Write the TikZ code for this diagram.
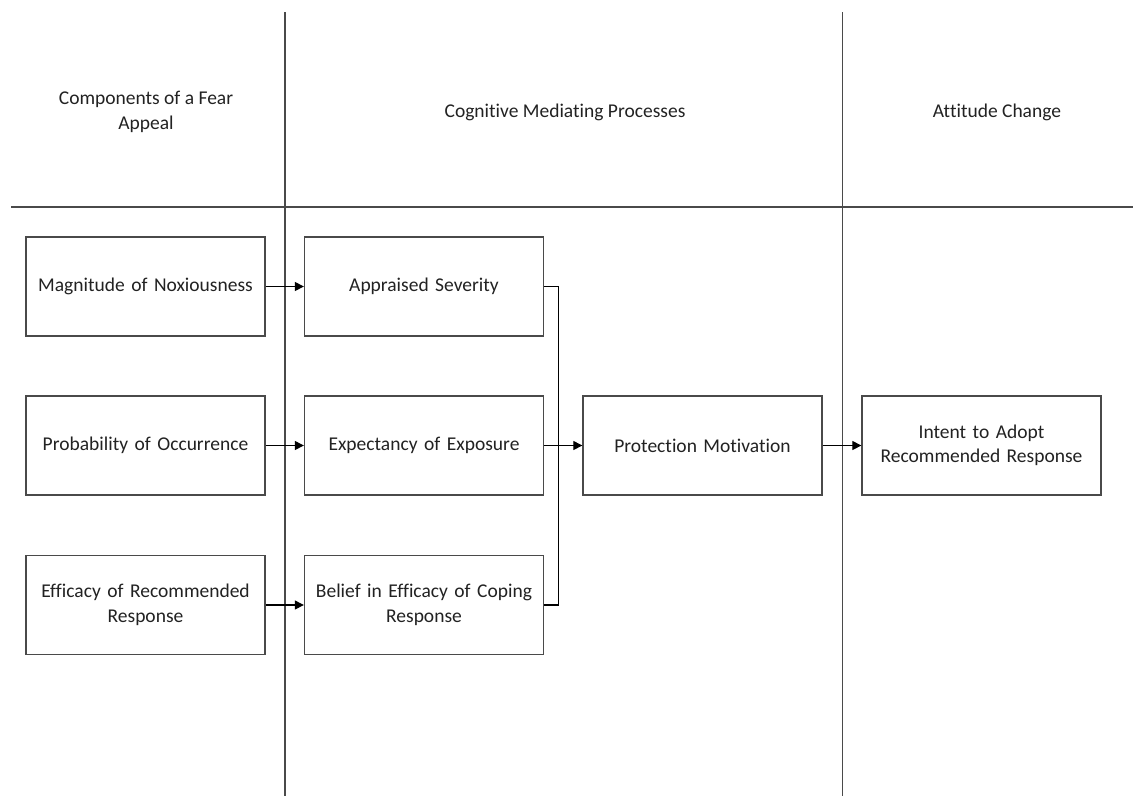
\documentclass[tikz,border=0pt]{standalone}
\usepackage{fontspec}
\setmainfont{Carlito}[Ligatures=NoCommon]
\usetikzlibrary{arrows.meta}
\definecolor{ink}{HTML}{222222}
\definecolor{frame}{HTML}{4A4A4A}
\tikzset{
  boxnode/.style={draw=frame, line width=1.3pt, minimum width=239pt, minimum height=99pt,
    inner sep=0pt, align=center, text=ink, font=\fontsize{19.5}{24.5}\selectfont, text width=225pt},
  headnode/.style={align=center, text=ink, font=\fontsize{19.5}{24.5}\selectfont, inner sep=0pt},
  gridline/.style={draw=frame, line width=1.2pt},
  conn/.style={draw=black, line width=1.1pt},
  arr/.style={conn, -{Triangle[length=9pt,width=9pt]}}
}
\begin{document}
\begin{tikzpicture}[x=1pt,y=-1pt]
\useasboundingbox (0,0) rectangle (1133,796);
% grid lines
\coordinate (hl) at (11,207);
\coordinate (hr) at (1133,207);
\coordinate (v1t) at (285,12);
\coordinate (v1b) at (285,796);
\coordinate (v2t) at (842.5,12);
\coordinate (v2b) at (842.5,796);
\draw[gridline] (hl) -- (hr);
\draw[gridline] (v1t) -- (v1b);
\draw[gridline] (v2t) -- (v2b);
% headers
\node[headnode] (h1) at (146,112) {Components of a Fear\\Appeal};
\node[headnode] (h2) at (565,112) {Cognitive Mediating Processes};
\node[headnode] (h3) at (997,112) {Attitude Change};
% boxes
\node[boxnode, fill=white] (a1) at (145.5,286.5) {Magnitude of Noxiousness};
\node[boxnode, fill=white] (a2) at (145.5,445.5) {Probability of Occurrence};
\node[boxnode, fill=white] (a3) at (145.5,605) {Efficacy of Recommended\\Response};
\node[boxnode, fill=white] (b1) at (424,286.5) {Appraised Severity};
\node[boxnode, fill=white] (b2) at (424,445.5) {Expectancy of Exposure};
\node[boxnode, fill=white] (b3) at (424,605) {Belief in Efficacy of Coping\\Response};
\node[boxnode, fill=white] (pm) at (702.5,445.5) {Protection Motivation};
\node[boxnode, fill=white] (ir) at (981.5,445.5) {Intent to Adopt\\Recommended Response};
% connectors
\draw[arr] (a1) -- (b1);
\draw[arr] (a2) -- (b2);
\draw[arr] (a3) -- (b3);
\coordinate (jx) at (558.5,286.5);
\draw[conn] (b1.east) -- (jx) |- (b3.east);
\draw[arr] (b2) -- (pm);
\draw[arr] (pm) -- (ir);
\end{tikzpicture}
\end{document}
